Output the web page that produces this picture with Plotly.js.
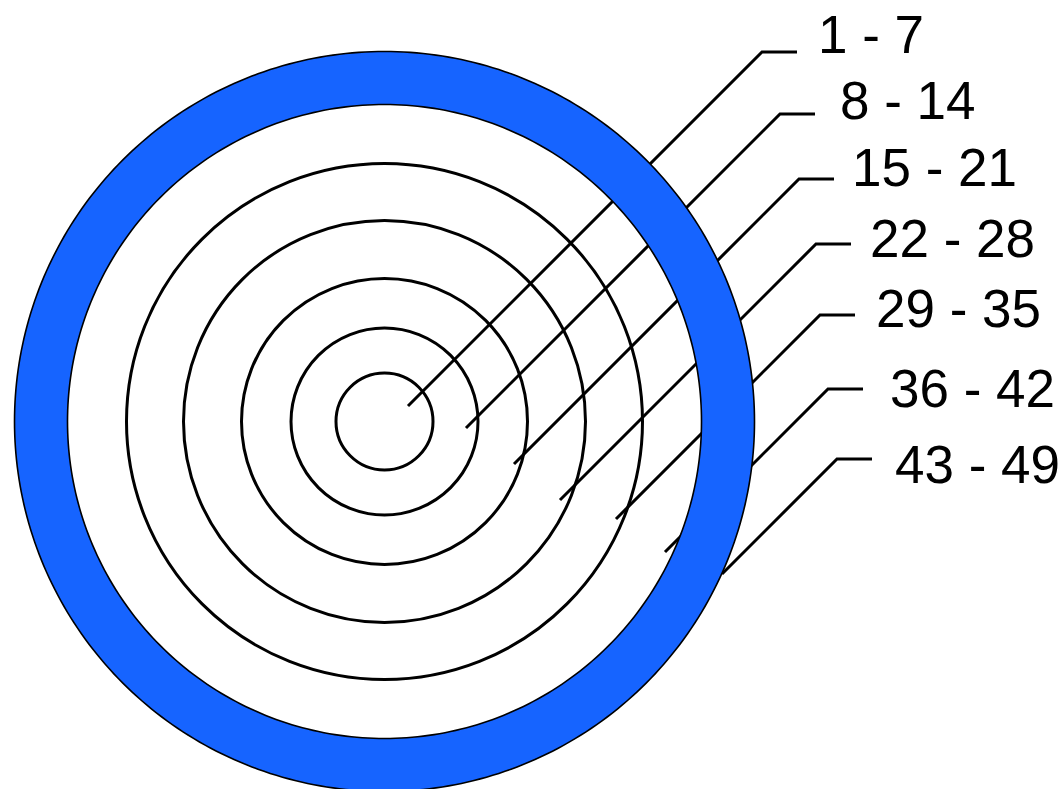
<!DOCTYPE html>
<html>
<head>
<meta charset="utf-8">
<script src="https://cdn.plot.ly/plotly-3.0.1.min.js"></script>
<style>html,body{margin:0;padding:0;background:#fff;}#chart{width:1063px;height:789px;}</style>
</head>
<body>
<div id="chart"></div>
<script>
// ---- data ----
const rangeLabels = ['1 - 7', '8 - 14', '15 - 21', '22 - 28', '29 - 35', '36 - 42', '43 - 49'];
// outer radius of each concentric band (innermost first); last two bound the blue ring
const bandRadii = [48.5, 93.5, 143, 201, 258, 317, 370];

// ---- layout (positions / styles) ----
const W = 1063, H = 789;
const center = {x: 384.5, y: 421.5};
const elbows = [[762, 52], [780, 114], [799, 179], [816, 244], [820, 315], [828, 389], [837, 459]];
const elbowLen = 35;
const diagLen = [354, 314, 285, 256, 204, 163, 115];
const labelX = [816, 838, 850, 868, 874, 888, 893];
const labelY = [34, 100, 167, 238, 308, 388, 464];
const ringColor = '#1664FF';

function circlePath(r, reverse) {
  const n = 360, pts = [];
  for (let i = 0; i < n; i++) {
    const a = (reverse ? -1 : 1) * 2 * Math.PI * i / n;
    pts.push((center.x + r * Math.cos(a)).toFixed(2) + ',' + (center.y + r * Math.sin(a)).toFixed(2));
  }
  return 'M' + pts.join('L') + 'Z';
}

const traces = rangeLabels.map((lab, i) => {
  const [ex, ey] = elbows[i];
  return {
    type: 'scatter', mode: 'lines',
    x: [ex + elbowLen, ex, ex - diagLen[i]],
    y: [ey, ey, ey + diagLen[i]],
    line: {color: '#000', width: 3},
    hoverinfo: 'skip', showlegend: false, name: lab
  };
});

const shapes = [];
// inner black rings
for (let i = 0; i < 5; i++) {
  const r = bandRadii[i];
  shapes.push({type: 'circle', xref: 'x', yref: 'y', layer: 'below',
    x0: center.x - r, x1: center.x + r, y0: center.y - r, y1: center.y + r,
    line: {color: '#000', width: 3}, fillcolor: 'rgba(0,0,0,0)'});
}
// blue ring (annulus), drawn above leader lines
shapes.push({type: 'path', xref: 'x', yref: 'y', layer: 'above',
  path: circlePath(bandRadii[6], false) + ' ' + circlePath(bandRadii[5], true),
  fillcolor: ringColor, line: {color: '#000', width: 1.6}});

const annotations = rangeLabels.map((lab, i) => ({
  x: labelX[i], y: labelY[i], xref: 'x', yref: 'y',
  text: lab, showarrow: false, xanchor: 'left', yanchor: 'middle',
  font: {family: 'Liberation Sans, Arial, sans-serif', size: 53, color: '#000'}
}));

const layout = {
  width: W, height: H,
  margin: {l: 0, r: 0, t: 0, b: 0, pad: 0},
  paper_bgcolor: '#fff', plot_bgcolor: '#fff',
  xaxis: {range: [0, W], visible: false, fixedrange: true},
  yaxis: {range: [H, 0], visible: false, fixedrange: true},
  shapes: shapes, annotations: annotations, showlegend: false
};

Plotly.newPlot('chart', traces, layout, {displayModeBar: false, staticPlot: true});
</script>
</body>
</html>
